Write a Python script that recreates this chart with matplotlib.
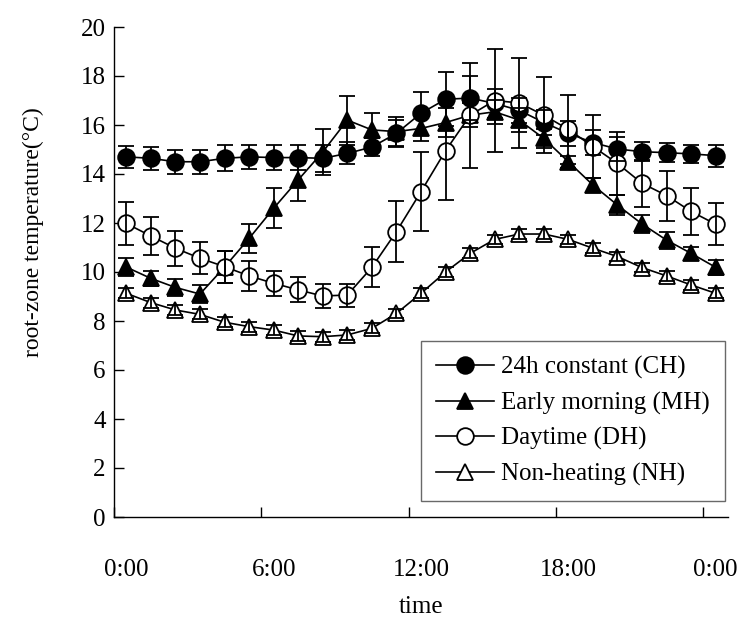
import matplotlib
matplotlib.use('Agg')
import matplotlib.pyplot as plt

# ---------------- data ----------------
hours = list(range(25))            # 0:00 ... 24:00 (hourly categories)
tick_hours = [0, 6, 12, 18, 24]
tick_labels = ['0:00', '6:00', '12:00', '18:00', '0:00']

ch = [14.70, 14.64, 14.50, 14.50, 14.64, 14.70, 14.67, 14.67, 14.64, 14.84, 15.10, 15.66, 16.48,
      17.05, 17.10, 16.88, 16.60, 16.10, 15.66, 15.28, 15.02, 14.91, 14.87, 14.82, 14.75]
ch_err = [0.46, 0.47, 0.48, 0.48, 0.53, 0.50, 0.50, 0.50, 0.55, 0.45, 0.35, 0.55, 0.88,
          1.10, 0.90, 0.60, 0.50, 0.50, 0.50, 0.50, 0.50, 0.39, 0.40, 0.38, 0.45]

mh = [10.20, 9.74, 9.37, 9.10, 10.20, 11.37, 12.60, 13.76, 14.90, 16.20, 15.80, 15.73, 15.86,
      16.10, 16.40, 16.54, 16.20, 15.45, 14.50, 13.55, 12.73, 11.96, 11.30, 10.76, 10.19]
mh_err = [0.36, 0.30, 0.35, 0.37, 0.65, 0.58, 0.82, 0.85, 0.95, 1.00, 0.68, 0.60, 0.50,
          0.60, 0.50, 0.50, 0.50, 0.40, 0.25, 0.30, 0.40, 0.37, 0.35, 0.27, 0.30]

dh = [11.98, 11.47, 10.97, 10.56, 10.22, 9.84, 9.54, 9.27, 9.02, 9.06, 10.19, 11.65, 13.28,
      14.95, 16.40, 17.00, 16.90, 16.40, 15.82, 15.12, 14.43, 13.62, 13.12, 12.47, 11.95]
dh_err = [0.86, 0.79, 0.71, 0.66, 0.65, 0.60, 0.51, 0.51, 0.48, 0.47, 0.82, 1.25, 1.62,
          2.00, 2.15, 2.10, 1.85, 1.55, 1.40, 1.28, 1.30, 0.97, 1.02, 0.94, 0.85]

nh = [9.13, 8.75, 8.45, 8.27, 7.95, 7.77, 7.63, 7.39, 7.36, 7.43, 7.70, 8.31, 9.13,
      10.00, 10.76, 11.33, 11.55, 11.55, 11.33, 10.97, 10.63, 10.18, 9.84, 9.47, 9.13]
nh_err = [0.20] * 25

series_names = ['24h constant (CH)', 'Early morning (MH)', 'Daytime (DH)', 'Non-heating (NH)']

# ---------------- figure ----------------
plt.rcParams['font.family'] = ['Liberation Serif', 'DejaVu Serif']

fig = plt.figure(figsize=(7.42, 6.21), dpi=100)
ax = fig.add_axes([114 / 742, 1 - 517 / 621, (728 - 114) / 742, (517 - 27) / 621])

# category positions: Excel-style, categories centred between boundary ticks
xpos = [h + 0.5 for h in hours]

styles = [
    dict(marker='o', mfc='black', ms=12),
    dict(marker='^', mfc='black', ms=12),
    dict(marker='o', mfc='white', ms=12),
    dict(marker='^', mfc='white', ms=12),
]
data = [(ch, ch_err), (mh, mh_err), (dh, dh_err), (nh, nh_err)]

for i, ((vals, errs), st, name) in enumerate(zip(data, styles, series_names)):
    ax.plot(xpos, vals, color='black', lw=1.2, marker=st['marker'], ms=st['ms'],
            mfc=st['mfc'], mec='black', mew=1.3, label=name, zorder=3 + i)
    ax.errorbar(xpos, vals, yerr=errs, fmt='none', ecolor='black', elinewidth=1.3,
                capsize=5.5, capthick=1.3, zorder=10)

ax.set_xlim(0, 25)
ax.set_ylim(0, 20)
ax.set_yticks(range(0, 21, 2))
ax.set_xticks(tick_hours)
ax.set_xticklabels([])
ax.set_xticks([h + 0.5 for h in tick_hours], tick_labels, minor=True)
ax.tick_params(axis='x', which='minor', length=0, pad=30, labelsize=18)
ax.tick_params(axis='x', which='major', direction='in', length=7, width=1)
ax.tick_params(axis='y', direction='in', length=7, width=1, pad=6, labelsize=18)

for s in ['top', 'right']:
    ax.spines[s].set_visible(False)
for s in ['left', 'bottom']:
    ax.spines[s].set_linewidth(1.0)

fig.text(33 / 742, 1 - 232 / 621, 'root-zone temperature(°C)', rotation=90,
         ha='center', va='center', fontsize=17)
fig.text((114 + 728) / 2 / 742, 1 - 607 / 621, 'time', ha='center', va='center', fontsize=18)

leg = ax.legend(loc='upper right', bbox_to_anchor=(725 / 742, 1 - 341 / 621),
                bbox_transform=fig.transFigure, borderaxespad=0, fontsize=18,
                frameon=True, fancybox=False, edgecolor='#444444', handlelength=2.3,
                handletextpad=0.3, labelspacing=0.5, borderpad=0.6, markerscale=1.0)
leg.get_frame().set_linewidth(1.0)

fig.savefig('out.png', dpi=100)
